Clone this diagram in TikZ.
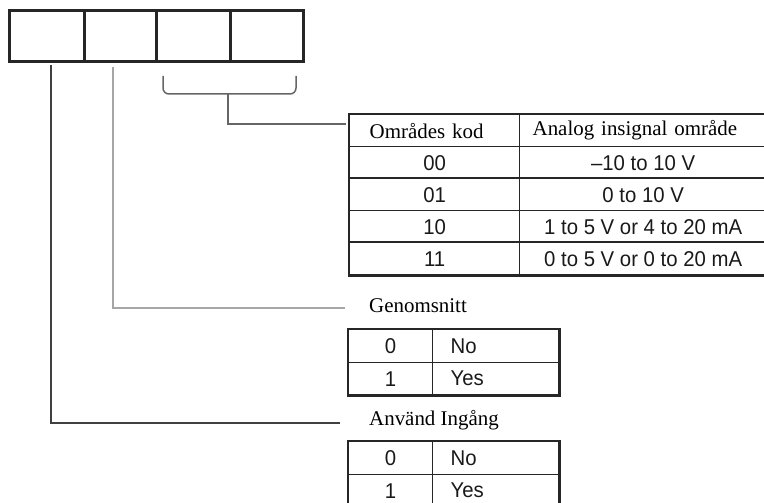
\documentclass[tikz,border=0pt]{standalone}
\usepackage{fontspec}
\setmainfont{Liberation Serif}
\newfontfamily\arialf[FakeStretch=0.95]{Liberation Sans}
\begin{document}
\begin{tikzpicture}[x=1bp,y=-1bp,
  topbox/.style={draw=black!85, line width=2.6bp, minimum height=51bp, inner sep=0pt, anchor=north west},
  cellbase/.style={draw=black!85, inner sep=0pt, anchor=north west, text=black!90},
  numcell/.style={cellbase, line width=1.3bp, minimum height=32bp, font=\arialf\fontsize{21.5}{21.5}\selectfont},
  headcell/.style={cellbase, line width=1.3bp, minimum height=32bp, font=\fontsize{21}{21}\selectfont, text=black},
  lbl/.style={anchor=west, inner sep=0pt, font=\fontsize{21}{21}\selectfont},
  frame/.style={draw=black!85, line width=2.6bp},
  thickrule/.style={draw=black!85, line width=2.4bp},
  darkline/.style={draw=black!75, line width=2bp},
  lightline/.style={draw=black!35, line width=2bp},
  midline/.style={draw=black!60, line width=1.5bp}
]
\useasboundingbox (0,0) rectangle (764,503);

% top code boxes
\node[topbox, minimum width=75bp] (b1) at (8,9) {};
\node[topbox, minimum width=72bp] (b2) at (83,9) {};
\node[topbox, minimum width=74bp] (b3) at (155,9) {};
\node[topbox, minimum width=73bp] (b4) at (229,9) {};

% main table
\node[headcell, minimum width=170bp, inner xsep=20bp, text width=130bp, align=left] (h1) at (349,114) {Områdes kod};
\node[headcell, minimum width=247bp, inner xsep=13bp, text width=221bp, align=left] (h2) at (519,114) {Analog insignal område};
\node[numcell, minimum width=170bp] (r1a) at (349,146) {00};
\node[numcell, minimum width=247bp] (r1b) at (519,146) {\char"2013 10 to 10 V};
\node[numcell, minimum width=170bp] (r2a) at (349,178) {01};
\node[numcell, minimum width=247bp] (r2b) at (519,178) {0 to 10 V};
\node[numcell, minimum width=170bp] (r3a) at (349,210) {10};
\node[numcell, minimum width=247bp] (r3b) at (519,210) {1 to 5 V or 4 to 20 mA};
\node[numcell, minimum width=170bp] (r4a) at (349,242) {11};
\node[numcell, minimum width=247bp] (r4b) at (519,242) {0 to 5 V or 0 to 20 mA};
\draw[thickrule] (r2a.north west) -- (r2b.north east);
\draw[thickrule] (r4a.north west) -- (r4b.north east);
\draw[frame] (h1.north west) rectangle (r4b.south east);

% Genomsnitt table
\node[lbl] (g) at (369,306) {Genomsnitt};
\node[numcell, minimum width=84bp, minimum height=33bp] (g0a) at (348,329) {0};
\node[numcell, minimum width=126bp, minimum height=33bp, inner xsep=18bp, text width=90bp, align=left] (g0b) at (432,329) {No};
\node[numcell, minimum width=84bp] (g1a) at (348,362) {1};
\node[numcell, minimum width=126bp, inner xsep=18bp, text width=90bp, align=left] (g1b) at (432,362) {Yes};
\draw[frame] (g0a.north west) rectangle (g1b.south east);

% Använd Ingång table
\node[lbl] (a) at (369,420) {Använd Ingång};
\node[numcell, minimum width=84bp, minimum height=33bp] (a0a) at (348,441) {0};
\node[numcell, minimum width=126bp, minimum height=33bp, inner xsep=18bp, text width=90bp, align=left] (a0b) at (432,441) {No};
\node[numcell, minimum width=84bp] (a1a) at (348,474) {1};
\node[numcell, minimum width=126bp, inner xsep=18bp, text width=90bp, align=left] (a1b) at (432,474) {Yes};
\draw[frame] (a0a.north west) rectangle (a1b.south east);

% connectors
\coordinate (s1) at (51,65);
\coordinate (e1) at (340,423);
\draw[darkline] (s1) |- (e1);
\coordinate (s2) at (113,67);
\coordinate (e2) at (345,308);
\draw[lightline] (s2) |- (e2);
\coordinate (bl) at (163,76);
\coordinate (br) at (296,76);
\coordinate (bm) at (228,94);
\coordinate (e3) at (346,124);
\draw[midline, rounded corners=6bp] (bl) -- (163,94) -- (296,94) -- (br);
\draw[midline] (bm) |- (e3);
\end{tikzpicture}
\end{document}
